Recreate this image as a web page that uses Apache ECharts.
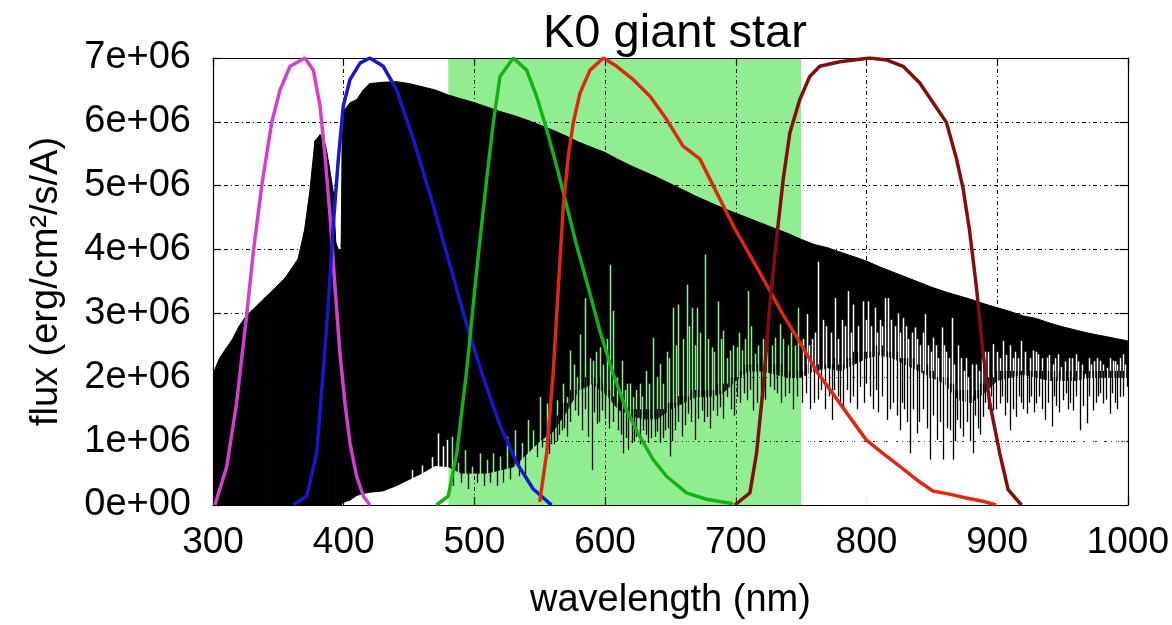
<!DOCTYPE html>
<html>
<head>
<meta charset="utf-8">
<script src="https://cdn.jsdelivr.net/npm/echarts@6/dist/echarts.min.js"></script>
<style>html,body{margin:0;padding:0;background:#fff}#c{width:1172px;height:625px}</style>
</head>
<body>
<div id="c"></div>
<script>
// ---- data (flux in units of 1e6 erg/cm2/s/A, wavelength in nm) ----
const titleText = 'K0 giant star';
const xTicks = [300, 400, 500, 600, 700, 800, 900, 1000];
const yTickLabels = ['0e+00','1e+06','2e+06','3e+06','4e+06','5e+06','6e+06','7e+06'];
const bandRange = [480, 750];

// spectrum continuum (upper edge) and solid lower edge
const specWl = [300,305,310,315,320,325,330,335,340,345,350,355,360,365,370,374,378,382,386,389,392,394,396,398,399,401,405,410,415,420,430,440,450,460,470,480,490,500,510,520,530,540,550,560,570,580,590,600,610,620,630,640,650,660,670,680,690,700,710,720,730,740,750,760,770,780,790,800,810,820,830,840,850,860,870,880,890,900,910,920,930,940,950,960,970,980,990,1000];
const specTop = [2.05,2.3,2.45,2.6,2.8,2.95,3.05,3.15,3.25,3.35,3.45,3.55,3.7,3.85,4.3,4.9,5.7,5.8,5.65,5.3,4.9,4.1,4.0,4.0,5.8,6.2,6.3,6.35,6.5,6.6,6.62,6.63,6.6,6.55,6.5,6.42,6.36,6.3,6.23,6.16,6.1,6.03,5.95,5.87,5.78,5.68,5.6,5.52,5.41,5.31,5.22,5.13,5.03,4.93,4.83,4.74,4.65,4.57,4.49,4.41,4.33,4.25,4.16,4.08,4.03,3.96,3.89,3.82,3.73,3.65,3.57,3.49,3.41,3.34,3.28,3.22,3.15,3.09,3.03,2.96,2.92,2.85,2.79,2.74,2.69,2.65,2.61,2.57];
const specFloor = [0,0,0,0,0,0,0,0,0,0,0,0,0,0,0,0,0,0,0,0,0,0,0,0,0.04,0.05,0.08,0.15,0.18,0.2,0.22,0.3,0.4,0.5,0.62,0.6,0.5,0.5,0.5,0.55,0.6,0.8,1.0,1.15,1.45,1.8,1.9,1.75,1.5,1.4,1.35,1.35,1.5,1.6,1.7,1.7,1.75,1.95,2.1,2.1,2.05,2.0,2.0,2.1,2.15,2.1,2.2,2.3,2.35,2.3,2.2,2.1,2.0,1.9,1.65,1.6,1.75,1.95,2.0,2.05,2.0,1.95,1.95,1.95,2.0,2.0,2.0,2.0];

// gaps between lines: [wavelength, top of gap]
const gaps = [[452,0.55],[459.7,0.62],[467.3,0.75],[472.4,1.12],[476.3,0.92],[479.3,1.02],
[482.6,1.07],[487.7,0.66],[492.8,0.86],[498,0.6],[504.3,0.81],[509.4,0.71],[514.5,0.81],[519.6,0.76],[524.7,1.07],[531.1,1.17],[536.2,0.97],[541.3,1.33],[545.1,1.17],[550.2,1.69],[555.3,1.59],[563,1.64],[567.5,1.9],[570.6,1.69],
[573.2,2.42],[576,2.2],[578.5,2.0],[580.8,2.67],[584.6,3.24],[588.5,2.3],[591,2.26],[593,2.4],[596,2.47],[598.5,2.2],[601.5,2.6],[603.8,3.76],[606.3,3.04],[609,2.0],[612.7,2.26],[615,1.8],[617,1.9],[619,1.9],[621.6,1.69],[623.5,1.8],[626.7,1.9],[628.5,1.7],[631,2.1],[633.5,1.9],[637,2.62],[639.5,2.0],[642,2.21],[644.5,1.9],[647,2.4],[649,2.3],[652.2,3.09],[654.5,2.5],[656,3.14],[659.5,2.6],[662.4,3.45],[664,2.8],[666.2,3.09],[668.5,2.5],[670,3.09],[673,2.7],[676.4,3.92],[678.5,2.6],[681.5,2.47],[683.5,2.4],[686.6,3.19],[688.5,2.6],[690.5,2.73],[693,2.3],[695.6,2.42],[698,2.5],[700.7,2.47],[702.5,2.7],[704.5,2.42],[707,2.6],[709.6,3.35],[712,2.8],[714.7,2.37],[717,2.5],[720.5,2.6],[724,2.7],[727.5,2.5],[730,2.62],[733.8,2.83],[736,2.6],[740,2.5],[742.5,2.7],[745.5,2.5],[747.8,3.09],
[751.5,2.6],[754.2,2.99],[756,2.5],[758,2.6],[761,2.7],[763.1,3.81],[766.5,2.9],[769,2.8],[772.5,2.7],[775.9,3.24],[778.5,2.6],[781,2.9],[783.5,2.8],[786,3.35],[788,2.7],[790,3.14],[793.5,2.8],[797.6,3.19],[799.5,2.9],[801.4,3.19],[803.5,2.8],[806.5,3.09],[808,2.7],[810,2.9],[812,2.8],[814.1,3.24],[816.7,3.24],[819,2.9],[822,2.8],[824,3.0],[826,2.7],[828.2,2.93],[830,2.8],[832,2.6],[834.5,2.7],[837.1,2.78],[839,2.6],[841,2.5],[843,2.7],[844.7,2.99],[847,2.5],[849.5,2.4],[851.1,2.62],[853,2.5],[855,2.3],[857.5,2.78],[859.5,2.5],[861,2.4],[863,2.3],[865.1,2.93],[867,2.2],[870,2.5],[872,2.3],[874.5,2.1],[876,2.3],[878,2.0],[881,2.2],[884,2.2],[886,2.1],[888.5,2.3],[891,2.4],[893,2.4],[897,2.52],[900,2.4],[902.5,2.3],[904.6,2.57],[907,2.35],[910,2.5],[912,2.3],[914,2.4],[916,2.3],[918.6,2.57],[921,2.4],[925,2.3],[927.6,2.42],[929.5,2.4],[931.4,2.36],[934,2.3],[937.8,2.31],[940,2.35],[943,2.2],[944.5,2.3],[946.7,2.36],[949.2,2.16],[952,2.25],[955,2.3],[957.5,2.3],[960.7,2.36],[962,2.25],[965,2.2],[967,2.05],[970,2.3],[972,2.2],[974,2.25],[976.5,2.3],[978.6,2.26],[981,2.2],[984,2.15],[986.5,2.3],[988.8,2.26],[990.5,2.25],[992,2.2],[994,2.3],[996.4,2.36],[998,2.2]];

// absorption lines reaching below the solid part: [wavelength, line minimum, level where it joins the solid part]
const lines = [[484,0.3,0.6],[490,0.35,0.6],[495,0.25,0.6],[502,0.35,0.6],[507,0.3,0.6],[512,0.35,0.6],[517,0.3,0.6],[522,0.35,0.65],[527,0.4,0.7],[534,0.45,0.8],[539,0.45,0.9],[548,0.75,1.1],[552,0.9,1.2],[557,0.8,1.3],[558.5,0.95,1.3],[561,0.95,1.3],[563.5,1.0,1.4],[565,1.1,1.5],
[566.8,1.17,1.6],[568.5,1.2,1.6],[570.6,1.07,1.6],[573.5,1.3,1.8],[577,1.48,1.8],[579.5,1.4,1.9],[582,1.17,1.9],[584.5,1.5,2.0],[587,1.07,1.9],[589.7,0.55,1.9],[591.5,1.45,2.0],[593.5,1.27,1.9],[595.5,1.3,2.0],[597.4,1.48,1.9],[600,1.35,1.9],[603,1.2,1.8],[606,1.3,1.7],[610,1.17,1.6],[612,1.1,1.6],[614,0.81,1.5],[616,1.05,1.5],[617.8,0.86,1.5],[620.3,0.97,1.5],[622,1.0,1.5],[624,1.07,1.5],[626.5,0.95,1.5],[629.3,1.17,1.5],[631,1.1,1.5],[633,0.97,1.5],[635.5,1.05,1.5],[638,1.07,1.5],[640,1.15,1.5],[642,0.97,1.5],[644,1.05,1.5],[646,1.17,1.5],[648,1.2,1.6],[649.6,0.76,1.6],[651.5,1.0,1.6],[653.5,1.17,1.6],[656,1.3,1.7],[658.6,1.07,1.7],[661,1.25,1.7],[663.7,1.43,1.7],[666,1.3,1.8],[668.8,1.02,1.8],[671,1.35,1.8],[674,1.48,1.8],[676,1.3,1.8],[677.7,1.38,1.8],[680,1.2,1.8],[682.8,1.48,1.8],[685.5,1.4,1.9],[688,1.53,1.8],[690.5,1.35,1.9],[693,1.69,1.9],[696,1.5,2.0],[698.5,1.4,2.0],[700.7,1.69,2.0],[703.5,1.6,2.1],[706,1.75,2.2],[708.3,1.64,2.2],[711,1.8,2.2],[713.4,1.48,2.2],[716,1.6,2.2],[719,1.75,2.2],[722.5,1.65,2.2],
[726.2,1.85,2.2],[729,1.8,2.2],[731.3,1.75,2.2],[734.5,1.6,2.2],[737.6,1.7,2.1],[740.5,1.75,2.1],[744,1.5,2.1],[747,1.7,2.1],[750.4,1.6,2.1],[753.5,1.75,2.2],[756.8,1.5,2.2],[760,1.6,2.2],[763.1,1.65,2.2],[765.5,1.8,2.2],[768.2,1.5,2.2],[771,1.7,2.3],[773.3,1.33,2.2],[775.5,1.8,2.3],[778,1.7,2.2],[780,1.6,2.3],[782.3,1.5,2.2],[785,1.8,2.3],[787.4,1.6,2.3],[790,1.7,2.4],[792.5,1.5,2.4],[795,1.85,2.3],[798,1.6,2.4],[800,1.9,2.4],[802.7,1.7,2.4],[805,1.5,2.4],[807,1.8,2.5],[809,1.45,2.4],[812,1.7,2.5],[815.4,1.33,2.4],[818,1.5,2.4],[820.5,1.6,2.4],[823,1.4,2.4],[825.6,1.17,2.3],[827.5,1.6,2.3],[829,1.5,2.3],[831,1.3,2.3],[833.3,0.81,2.2],[835.5,1.5,2.3],[838.4,1.12,2.2],[840.5,1.3,2.2],[843.5,1.5,2.1],[846,1.2,2.2],[848.6,0.71,2.1],[851,1.4,2.1],[853.7,1.02,2.0],[856,1.3,2.1],[858.8,0.71,2.0],[861.5,1.2,2.0],[864,1.17,1.9],[866.4,0.71,1.9],[868,1.0,1.8],[869,1.33,1.8],[871.5,1.2,1.8],
[874,1.07,1.8],[877,1.3,1.8],[879.5,1.0,1.8],[881.7,0.81,1.7],[883,1.4,1.8],[885,1.2,1.8],[887,1.1,1.9],[889.3,1.38,1.9],[891,1.6,2.0],[893,1.5,2.0],[895,1.7,2.1],[897,1.48,2.0],[899.5,1.5,2.1],[902,1.59,2.1],[904,1.7,2.1],[906,1.4,2.1],[907.5,1.6,2.1],[909.7,1.17,2.1],[912,1.5,2.1],[914.8,1.38,2.1],[916.5,1.7,2.1],[918,1.6,2.1],[920,1.5,2.1],[922.5,1.43,2.1],[924,1.6,2.1],[926,1.7,2.1],[928,1.45,2.1],[930.1,1.59,2.1],[932,1.7,2.1],[934.5,1.5,2.1],[936.5,1.33,2.1],[939,1.6,2.1],[941.6,1.23,2.0],[943.5,1.7,2.1],[945,1.55,2.0],[947.5,1.45,2.1],[950.5,1.64,2.0],[952.5,1.75,2.1],[954,1.5,2.0],[956,1.6,2.1],[958.2,1.48,2.0],[960.5,1.7,2.1],[963.3,1.17,2.0],[965.5,1.55,2.1],[968.4,1.28,2.1],[970.5,1.7,2.1],[973.5,1.48,2.1],[975.5,1.6,2.1],[977,1.7,2.1],[979,1.75,2.1],[981.1,1.59,2.1],[983.5,1.65,2.1],[986.2,1.43,2.1],[988,1.75,2.1],[990,1.6,2.1],[991.5,1.5,2.1],[993.9,1.69,2.1],[996.5,1.7,2.1],[999,1.85,2.1]];

// filter transmission curves (scaled to 7e6 peak)
const uWl = [301.5,310.5,318,325.8,330.9,337.3,344.9,351.3,359,370.4,376.8,381.9,385.7,389.5,393.4,397.2,401,404.8,409.9,415,420];
const uFlux = [0,0.6,1.59,2.98,3.97,5.0,5.99,6.5,6.87,7.0,6.81,6.25,5.47,4.54,3.4,2.36,1.59,0.97,0.45,0.14,0];
const bWl = [361.5,371.7,379.3,384.4,388.2,392,395.9,399.7,404.8,412.5,420,430.3,440.5,453.3,468.6,481.3,494,506.8,519.6,532.4,545,559];
const bFlux = [0,0.14,0.81,2.1,3.14,4.38,5.42,6.25,6.66,6.92,7.0,6.87,6.5,5.73,4.69,3.76,2.83,2.0,1.25,0.66,0.25,0];
const vWl = [471,480,486.5,494.1,501.7,509.4,514.5,519.6,529.8,540,547.6,555.3,562.9,570.6,578.2,585.9,596,606.2,616.4,626.6,636.8,647,662.3,677.6,698];
const vFlux = [0,0.14,0.81,2.1,3.66,5.1,5.99,6.71,7.0,6.81,6.4,5.88,5.31,4.69,4.07,3.5,2.73,2.05,1.49,1.07,0.71,0.45,0.19,0.09,0.02];
const rWl = [550,555.3,560.4,564.2,568.1,571.9,575.7,580.8,588.5,598.7,608.9,621.6,634.4,647,659.7,672.5,685.2,697.9,710.6,723.5,736.2,749,761.7,774.4,787.1,799.8,812.6,825.3,838.1,850.8,863.6,876.3,889,899.3];
const rFlux = [0.05,0.81,2.1,3.4,4.69,5.47,5.99,6.45,6.81,7.0,6.87,6.66,6.4,6.04,5.62,5.42,4.9,4.38,3.92,3.45,2.98,2.55,2.1,1.74,1.38,1.02,0.81,0.61,0.4,0.22,0.17,0.11,0.06,0];
const iWl = [699.3,710.8,715.9,721,726.1,731.2,736.3,741.4,749,756.6,764.3,779.6,802.5,815.3,828,840.8,851,861.2,868.9,874,879,884.2,889.3,894.4,902,908.4,918.6];
const iFlux = [0,0.19,0.81,1.85,3.14,4.17,5.1,5.83,6.35,6.71,6.87,6.94,7.0,6.97,6.87,6.61,6.3,5.99,5.42,4.95,4.28,3.4,2.36,1.59,0.81,0.24,0];

// ---- build ----
const U = 1e6;
const pair = (xs, ys) => xs.map((x, i) => [x, ys[i] * U]);
const bodyData = [];
for (let i = 0; i < specWl.length - 1; i++) {
  bodyData.push([specWl[i], specTop[i]*U, specFloor[i]*U, specWl[i+1], specTop[i+1]*U, specFloor[i+1]*U]);
}
const gapData = gaps.map(g => [g[0], g[1]*U]);
const lineData = lines.map(l => [l[0], l[1]*U, l[2]*U]);
const font = 'Liberation Sans, Arial, Helvetica, sans-serif';
const grid = {left: 213, right: 44, top: 58, bottom: 116};
const gridLine = {show: true, lineStyle: {color: '#000', width: 1, type: [4, 3, 1, 3]}};
const px = v => Math.round(v) + 0.5;

function axisCommon(extra) {
  return Object.assign({
    axisLine: {show: true, onZero: false, lineStyle: {color: '#000', width: 1.2}},
    axisTick: {show: true, inside: true, length: 8, lineStyle: {color: '#000', width: 1.2}},
  }, extra);
}

const chart = echarts.init(document.getElementById('c'), null, {renderer: 'canvas'});
chart.setOption({
  animation: false,
  backgroundColor: '#fff',
  title: {text: titleText, left: 538, top: 6,
    textStyle: {fontFamily: font, fontSize: 47, fontWeight: 'normal', color: '#000'}},
  grid: grid,
  xAxis: [
    axisCommon({type: 'value', min: 300, max: 1000, interval: 100, position: 'bottom',
      name: 'wavelength (nm)', nameLocation: 'middle', nameGap: 77,
      nameTextStyle: {fontFamily: font, fontSize: 38, color: '#000'},
      axisLabel: {fontFamily: font, fontSize: 37, color: '#000', margin: 19,
        formatter: v => xTicks.includes(v) ? String(v) : ''},
      splitLine: gridLine}),
    axisCommon({type: 'value', min: 300, max: 1000, interval: 100, position: 'top',
      axisLabel: {show: false}, splitLine: {show: false}})
  ],
  yAxis: [
    axisCommon({type: 'value', min: 0, max: 7e6, interval: 1e6, position: 'left',
      name: 'flux (erg/cm\u00b2/s/A)', nameLocation: 'middle', nameGap: 147,
      nameTextStyle: {fontFamily: font, fontSize: 38, color: '#000'},
      axisLabel: {fontFamily: font, fontSize: 38, color: '#000', margin: 22,
        formatter: v => yTickLabels[Math.round(v / U)]},
      splitLine: gridLine}),
    axisCommon({type: 'value', min: 0, max: 7e6, interval: 1e6, position: 'right',
      axisLabel: {show: false}, splitLine: {show: false}})
  ],
  series: [
    {type: 'custom', z: -1, silent: true, clip: true,
      data: [[bandRange[0], 0, bandRange[1], 7e6]],
      encode: {x: [0, 2], y: [1, 3]},
      renderItem: (p, api) => {
        const a = api.coord([api.value(0), api.value(3)]);
        const b = api.coord([api.value(2), api.value(1)]);
        return {type: 'rect', shape: {x: a[0], y: a[1], width: b[0]-a[0], height: b[1]-a[1]},
          style: {fill: '#90ee90'}};
      }},
    {type: 'custom', z: 2, silent: true, clip: true, data: bodyData,
      encode: {x: [0, 3], y: [1, 2, 4, 5]},
      renderItem: (p, api) => {
        const p0 = api.coord([api.value(0), api.value(1)]);
        const p1 = api.coord([api.value(3), api.value(4)]);
        const p2 = api.coord([api.value(3), api.value(5)]);
        const p3 = api.coord([api.value(0), api.value(2)]);
        return {type: 'polygon', shape: {points: [p0, p1, p2, p3]},
          style: {fill: '#000', stroke: '#000', lineWidth: 1}};
      }},
    {type: 'custom', z: 3, silent: true, clip: true, data: gapData,
      encode: {x: 0, y: 1},
      renderItem: (p, api) => {
        const w = api.value(0);
        const a = api.coord([w, 0]);
        const b = api.coord([w, api.value(1)]);
        const inBand = w >= bandRange[0] && w <= bandRange[1];
        return {type: 'line', shape: {x1: px(a[0]), y1: a[1], x2: px(b[0]), y2: b[1]},
          style: {stroke: inBand ? '#90ee90' : '#ffffff', lineWidth: 1.5}};
      }},
    {type: 'custom', z: 4, silent: true, clip: true, data: lineData,
      encode: {x: 0, y: [1, 2]},
      renderItem: (p, api) => {
        const w = api.value(0);
        const a = api.coord([w, api.value(1)]);
        const b = api.coord([w, api.value(2)]);
        return {type: 'line', shape: {x1: px(a[0]), y1: a[1], x2: px(b[0]), y2: b[1]},
          style: {stroke: '#000', lineWidth: 1.3}};
      }},
    {type: 'line', z: 6, data: pair(uWl, uFlux), showSymbol: false, lineStyle: {color: '#d040d0', width: 3.5}},
    {type: 'line', z: 6, data: pair(bWl, bFlux), showSymbol: false, lineStyle: {color: '#1818c8', width: 3.5}},
    {type: 'line', z: 6, data: pair(vWl, vFlux), showSymbol: false, lineStyle: {color: '#18b018', width: 3.5}},
    {type: 'line', z: 6, data: pair(rWl, rFlux), showSymbol: false, lineStyle: {color: '#dc2a12', width: 3.5}},
    {type: 'line', z: 6, data: pair(iWl, iFlux), showSymbol: false, lineStyle: {color: '#801010', width: 3.5}}
  ]
});
</script>
</body>
</html>
